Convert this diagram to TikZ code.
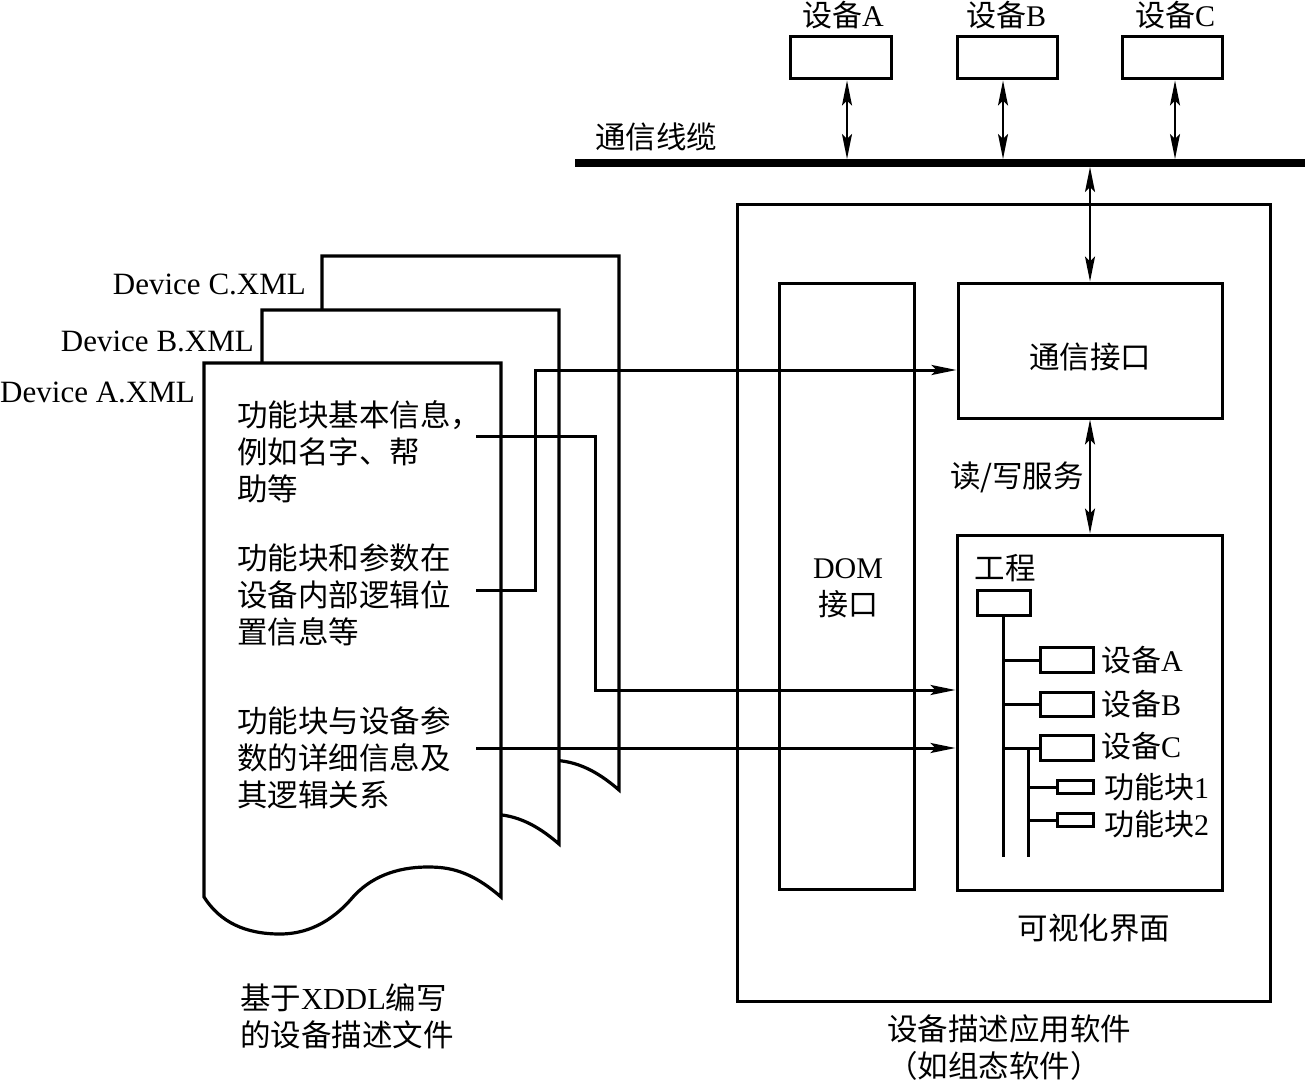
\documentclass[tikz,border=0pt]{standalone}
\usepackage{fontspec}
\setmainfont{Liberation Serif}
\newfontfamily\cjk{Noto Sans CJK SC}
\usetikzlibrary{arrows.meta}
\newcommand\docpath{(204,363) -- (501,363) -- (501,897)
  .. controls (470,870) and (448,867) .. (428,867)
  .. controls (395,867) and (370,878) .. (353,897)
  .. controls (330,924) and (305,934) .. (280,934)
  .. controls (245,934) and (220,922) .. (204,897) -- cycle}
\begin{document}
\begin{tikzpicture}[x=1pt,y=-1pt,
  box/.style={draw,line width=3pt,inner sep=0pt},
  txt/.style={inner sep=0pt,font=\fontsize{30.5}{37}\selectfont\cjk},
  lat/.style={inner sep=0pt,font=\fontsize{30}{37}\selectfont},
  dlab/.style={inner sep=0pt,font=\fontsize{31}{37}\selectfont},
  conn/.style={line width=3pt},
  docline/.style={line width=3.2pt,fill=white},
  >={Stealth[length=25pt,width=10pt,inset=5pt]},
  darr/.style={line width=1.8pt,<->},
  arr/.style={line width=3pt,->}]
\useasboundingbox (0,0) rectangle (1305,1086);

% documents
\begin{scope}[shift={(118,-107)}]
  \draw[docline] \docpath;
\end{scope}
\begin{scope}[shift={(58,-53)}]
  \draw[docline] \docpath;
\end{scope}
\draw[docline] \docpath;

\node[dlab,anchor=east] (labC) at (306,284) {Device C.XML};
\node[dlab,anchor=east] (labB) at (254,341) {Device B.XML};
\node[dlab,anchor=east] (labA) at (195,392) {Device A.XML};

\node[txt,anchor=west,align=left] (g1) at (237,452) {功能块基本信息，\\例如名字、帮\\助等};
\node[txt,anchor=west,align=left] (g2) at (237,595) {功能块和参数在\\设备内部逻辑位\\置信息等};
\node[txt,anchor=west,align=left] (g3) at (237,758) {功能块与设备参\\数的详细信息及\\其逻辑关系};

\node[txt,anchor=west,align=left] (cap1) at (240,1016) {基于{\rmfamily XDDL}编写\\的设备描述文件};

% top devices and bus
\node[box,minimum width=101pt,minimum height=42pt] (devA) at (840.5,58) {};
\node[box,minimum width=100pt,minimum height=42pt] (devB) at (1007,58) {};
\node[box,minimum width=100pt,minimum height=42pt] (devC) at (1172,58) {};
\node[lat] (ldA) at (843,15) {{\cjk 设备}A};
\node[lat] (ldB) at (1006,15) {{\cjk 设备}B};
\node[lat] (ldC) at (1175,15) {{\cjk 设备}C};

\coordinate (busL) at (575,163);
\coordinate (busR) at (1305,163);
\coordinate (busTop) at (0,159);
\coordinate (busBot) at (0,167);
\draw[line width=8pt] (busL) -- (busR);
\node[txt,anchor=west] (lbus) at (595,137) {通信线缆};

\draw[darr] ([xshift=6.5pt]devA.south) -- ([xshift=6.5pt]devA.south |- busTop);
\draw[darr] ([xshift=-4pt]devB.south) -- ([xshift=-4pt]devB.south |- busTop);
\draw[darr] ([xshift=3pt]devC.south) -- ([xshift=3pt]devC.south |- busTop);

% software
\node[box,minimum width=533pt,minimum height=797pt] (soft) at (1003.5,602.5) {};
\node[box,minimum width=264pt,minimum height=135pt] (comm) at (1090,350.5) {};
\node[txt] (lcomm) at (1090,357) {通信接口};
\node[box,minimum width=135pt,minimum height=606pt] (dom) at (846.5,586) {};
\node[lat,align=center] (ldom) at (848,588) {DOM\\{\cjk 接口}};
\node[box,minimum width=265pt,minimum height=355pt] (vis) at (1089.5,712.5) {};
\node[txt] (lvis) at (1094,928) {可视化界面};
\node[txt] (lrw) at (1017,477) {读/写服务};
\node[txt,anchor=north west,align=left] (lsoft) at (887,1014) {设备描述应用软件\\（如组态软件）};

\draw[darr] (comm.north |- busBot) -- (comm.north);
\draw[darr] (comm.south) -- (comm.south |- vis.north);

% tree
\node[txt] (lproj) at (1005,568) {工程};
\node[box,minimum width=53pt,minimum height=25pt] (proj) at (1003.5,602.5) {};
\node[box,minimum width=53pt,minimum height=25pt] (dA) at (1066.5,660) {};
\node[box,minimum width=53pt,minimum height=24pt] (dB) at (1066.5,704) {};
\node[box,minimum width=53pt,minimum height=25pt] (dC) at (1066.5,748) {};
\node[box,minimum width=36pt,minimum height=13pt] (f1) at (1075,787) {};
\node[box,minimum width=36pt,minimum height=13pt] (f2) at (1075,820) {};
\coordinate (tEnd) at (0,857);
\coordinate (v2) at (1028,748);
\draw[conn] (proj.south) -- (proj.south |- tEnd);
\draw[conn] (proj.south |- dA) -- (dA.west);
\draw[conn] (proj.south |- dB) -- (dB.west);
\draw[conn] (proj.south |- dC) -- (dC.west);
\draw[conn] (v2) -- (v2 |- tEnd);
\draw[conn] (v2 |- f1) -- (f1.west);
\draw[conn] (v2 |- f2) -- (f2.west);
\node[lat,anchor=west] (ltA) at (1101,660) {{\cjk 设备}A};
\node[lat,anchor=west] (ltB) at (1101,704) {{\cjk 设备}B};
\node[lat,anchor=west] (ltC) at (1101,746) {{\cjk 设备}C};
\node[lat,anchor=west] (ltF1) at (1104,787) {{\cjk 功能块}1};
\node[lat,anchor=west] (ltF2) at (1104,824) {{\cjk 功能块}2};

% connectors from document
\coordinate (s1) at (476,436);
\coordinate (s2) at (476,590);
\coordinate (s3) at (476,748);
\coordinate (y1) at (0,690);
\coordinate (y2) at (0,370);
\draw[arr] (s1) -- (595,436) -- (595,690) -- (vis.west |- y1);
\draw[arr] (s2) -- (535,590) -- (535,370) -- (comm.west |- y2);
\draw[arr] (s3) -- (vis.west |- s3);
\end{tikzpicture}
\end{document}
